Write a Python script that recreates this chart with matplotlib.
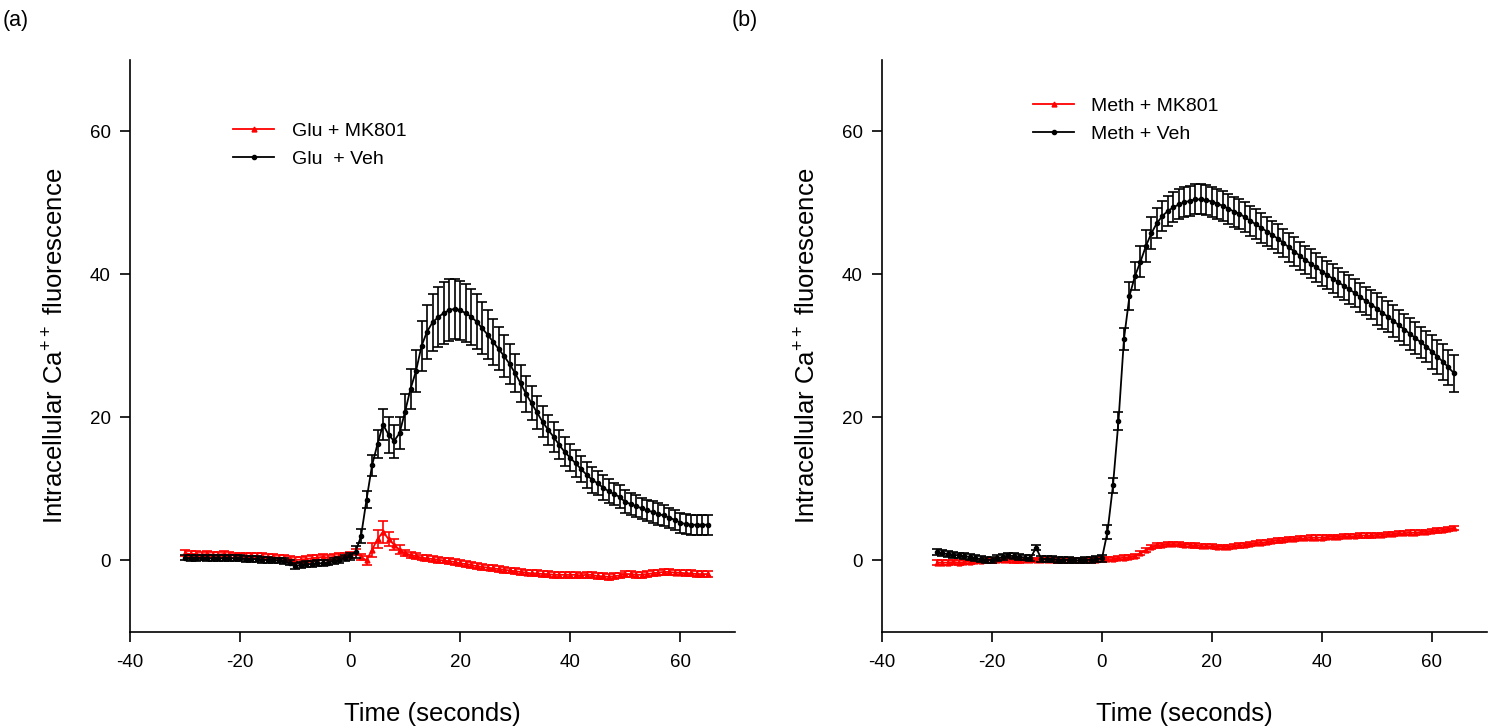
import numpy as np
from matplotlib import pyplot as plt

plt.rcParams['font.family'] = ['Liberation Sans', 'DejaVu Sans']
plt.rcParams['axes.unicode_minus'] = False

# panel (a): Glu, one sample per second from -30 s to 65 s
time_a = np.arange(-30, 66)
glu_veh = [0.4, 0.3, 0.3, 0.4, 0.3, 0.3, 0.3, 0.3, 0.3, 0.3,
           0.3, 0.2, 0.2, 0.2, 0.1, 0.1, 0.0, 0.0, -0.1, -0.3,
           -0.8, -0.6, -0.5, -0.5, -0.4, -0.4, -0.3, -0.1, 0.1, 0.3,
           0.6, 1.2, 3.4, 8.5, 13.3, 16.3, 19.0, 17.6, 16.7, 17.8,
           20.8, 24.0, 26.5, 30.0, 32.0, 33.3, 34.0, 34.6, 35.0, 35.2,
           35.0, 34.6, 34.1, 33.4, 32.5, 31.6, 30.6, 29.6, 28.6, 27.5,
           26.2, 24.8, 23.3, 22.0, 20.7, 19.4, 18.3, 17.3, 16.2, 15.2,
           14.4, 13.6, 12.8, 12.0, 11.3, 10.8, 10.2, 9.7, 9.3, 8.9,
           8.2, 7.9, 7.6, 7.3, 7.0, 6.8, 6.5, 6.3, 6.0, 5.7,
           5.3, 5.1, 5.0, 5.0, 5.0, 5.0]
glu_veh_err = [0.4] * 30 + [
           0.5, 0.8, 1.0, 1.2, 1.5, 2.0, 2.2, 2.5, 2.3, 2.2,
           2.5, 2.8, 3.0, 3.5, 3.8, 4.0, 4.2, 4.3, 4.3, 4.2,
           4.1, 4.0, 3.9, 3.8, 3.6, 3.4, 3.2, 3.0, 2.9, 2.8,
           2.7, 2.6, 2.5, 2.4, 2.3, 2.2, 2.1, 2.1, 2.0, 2.0,
           1.9, 1.9, 1.8, 1.8, 1.8, 1.7, 1.7, 1.7, 1.6, 1.6,
           1.6, 1.6, 1.5, 1.5, 1.5, 1.5, 1.5, 1.5, 1.4, 1.4,
           1.4, 1.4, 1.4, 1.4, 1.4, 1.4]
glu_mk = [1.0, 0.9, 0.9, 0.8, 0.9, 0.8, 0.8, 0.9, 0.8, 0.7,
          0.7, 0.6, 0.7, 0.6, 0.6, 0.5, 0.5, 0.4, 0.3, 0.2,
          0.1, 0.1, 0.2, 0.3, 0.4, 0.5, 0.4, 0.5, 0.6, 0.7,
          0.8, 1.2, 0.5, 0.0, 1.5, 3.0, 4.0, 3.0, 2.2, 1.5,
          1.0, 0.8, 0.6, 0.4, 0.3, 0.2, 0.1, 0.0, -0.1, -0.2,
          -0.4, -0.5, -0.6, -0.8, -0.9, -1.0, -1.1, -1.2, -1.3, -1.4,
          -1.5, -1.6, -1.7, -1.8, -1.8, -1.9, -1.9, -2.0, -2.0, -2.0,
          -2.0, -2.0, -2.1, -2.0, -2.0, -2.2, -2.2, -2.3, -2.2, -2.1,
          -1.9, -1.9, -2.0, -2.0, -1.9, -1.8, -1.7, -1.6, -1.6, -1.7,
          -1.7, -1.8, -1.8, -1.9, -1.9, -1.9]
glu_mk_err = [0.4] * 33 + [0.6, 1.0, 1.3, 1.5, 1.0, 0.8, 0.6] + [0.4] * 56

# panel (b): Meth, one sample per second from -30 s to 64 s
time_b = np.arange(-30, 65)
meth_veh = [1.2, 1.0, 0.9, 0.8, 0.7, 0.6, 0.5, 0.3, 0.2, 0.1,
            0.1, 0.3, 0.5, 0.7, 0.6, 0.5, 0.4, 0.3, 1.8, 0.2,
            0.2, 0.2, 0.1, 0.1, 0.1, 0.0, 0.0, 0.1, 0.1, 0.2,
            0.3, 4.0, 10.5, 19.5, 31.0, 37.0, 39.8, 41.8, 44.0, 45.8,
            47.2, 48.2, 48.9, 49.4, 49.8, 50.1, 50.3, 50.5, 50.5, 50.4,
            50.2, 49.9, 49.6, 49.2, 48.8, 48.5, 48.0, 47.5, 47.0, 46.5,
            46.0, 45.5, 45.0, 44.4, 43.8, 43.2, 42.6, 42.0, 41.5, 41.0,
            40.4, 39.9, 39.4, 38.9, 38.4, 37.9, 37.4, 36.8, 36.3, 35.8,
            35.2, 34.6, 34.1, 33.5, 32.9, 32.3, 31.7, 31.1, 30.5, 29.9,
            29.2, 28.5, 27.8, 27.0, 26.2]
meth_veh_err = [0.4] * 30 + [0.5, 1.0, 1.0, 1.2, 1.5, 2.0, 2.0, 2.2, 2.2, 2.2] + \
               [2.1] * 20 + [2.0] * 20 + [2.2] * 10 + [2.4, 2.4, 2.5, 2.5, 2.6]
meth_mk = [-0.3, -0.3, -0.3, -0.2, -0.3, -0.2, -0.2, -0.1, -0.1, 0.0,
           0.0, 0.1, 0.1, 0.1, 0.0, 0.0, 0.1, 0.1, 0.1, 0.1,
           0.1, 0.1, 0.0, 0.0, 0.0, 0.0, 0.0, 0.1, 0.1, 0.1,
           0.2, 0.2, 0.2, 0.3, 0.4, 0.5, 0.6, 1.0, 1.5, 1.9,
           2.1, 2.2, 2.3, 2.3, 2.3, 2.2, 2.2, 2.1, 2.0, 2.0,
           2.0, 1.9, 1.9, 1.9, 2.0, 2.1, 2.2, 2.3, 2.4, 2.5,
           2.6, 2.7, 2.8, 2.9, 3.0, 3.0, 3.1, 3.1, 3.2, 3.2,
           3.2, 3.3, 3.3, 3.3, 3.4, 3.4, 3.4, 3.5, 3.5, 3.5,
           3.6, 3.6, 3.7, 3.7, 3.8, 3.8, 3.9, 3.9, 4.0, 4.0,
           4.1, 4.2, 4.3, 4.4, 4.5]
meth_mk_err = [0.3] * 95

panels = [
    ('(a)', time_a, glu_mk, glu_mk_err, glu_veh, glu_veh_err,
     'Glu + MK801', 'Glu  + Veh', (0.158, 0.905), 0.002),
    ('(b)', time_b, meth_mk, meth_mk_err, meth_veh, meth_veh_err,
     'Meth + MK801', 'Meth + Veh', (0.237, 0.949), 0.488),
]

fig = plt.figure(figsize=(15, 7.27), dpi=100)
lefts = [0.0867, 0.588]

for (tag, t, mk, mk_err, veh, veh_err, lab_mk, lab_veh, leg_pos, tag_x), left in zip(panels, lefts):
    ax = fig.add_axes([left, 0.1307, 0.4033, 0.7868])
    red = ax.errorbar(t, mk, yerr=mk_err, color='red', marker='^', ms=3.5,
                      lw=1.3, elinewidth=1.2, capsize=3.5, capthick=1.2,
                      zorder=2)
    blk = ax.errorbar(t, veh, yerr=veh_err, color='black', marker='o', ms=3,
                      lw=1.3, elinewidth=1.2, capsize=3.5, capthick=1.2,
                      zorder=3)
    ax.set_xlim(-40, 70)
    ax.set_ylim(-10, 70)
    ax.set_xticks([-40, -20, 0, 20, 40, 60])
    ax.set_yticks([0, 20, 40, 60])
    ax.spines['top'].set_visible(False)
    ax.spines['right'].set_visible(False)
    ax.spines['left'].set_linewidth(1.2)
    ax.spines['bottom'].set_linewidth(1.2)
    ax.tick_params(direction='out', length=7, width=1.2, labelsize=13.5)
    ax.tick_params(axis='x', pad=9)
    ax.tick_params(axis='y', pad=7)
    ax.set_xlabel('Time (seconds)', fontsize=18.5, labelpad=22)
    ax.set_ylabel('Intracellular Ca$^{\\mathregular{++}}$ fluorescence',
                  fontsize=18.5, labelpad=16)
    ax.legend([red[0], blk[0]], [lab_mk, lab_veh], loc='upper left',
              bbox_to_anchor=leg_pos, frameon=False, fontsize=14,
              handlelength=2.1, handletextpad=0.9,
              labelspacing=0.55, borderaxespad=0)
    fig.text(tag_x, 0.972, tag, fontsize=15.5, va='center', ha='left')

fig.savefig('out.png', dpi=100)
